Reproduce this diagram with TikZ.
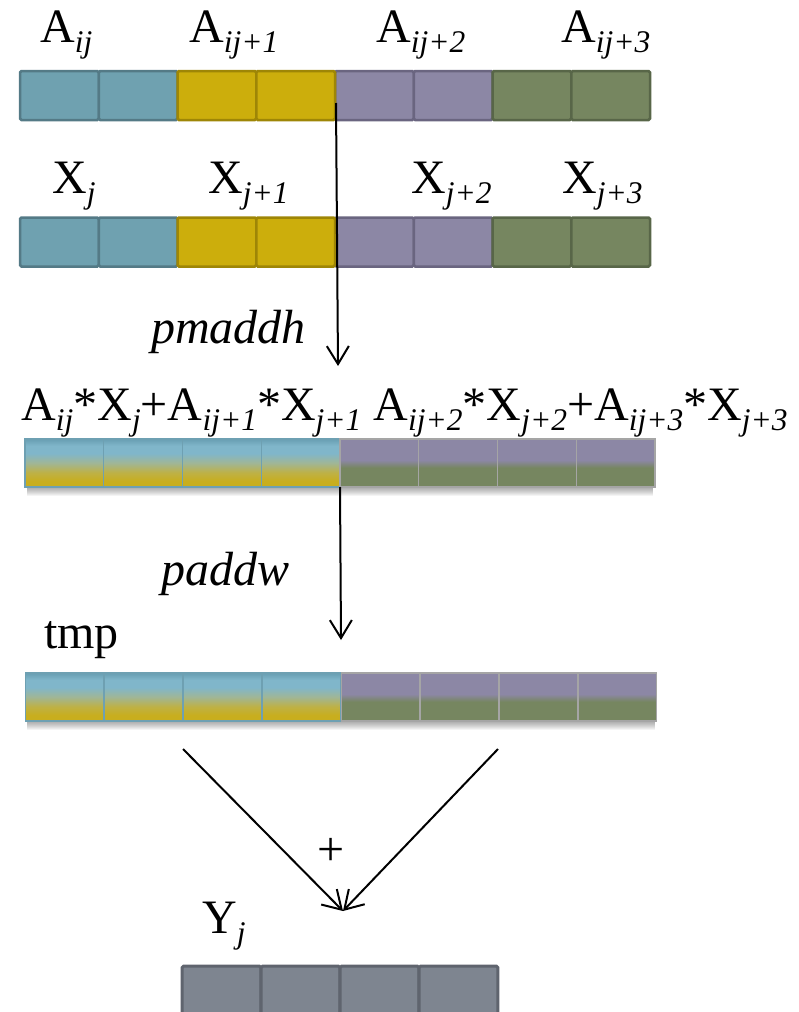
\documentclass[tikz,border=0pt]{standalone}
\usepackage{fontspec}
\setmainfont{Liberation Serif}
\usetikzlibrary{arrows.meta,calc}

% cell colours (fill / border)
\definecolor{tealF}{RGB}{111,161,176}
\definecolor{tealD}{RGB}{84,122,134}
\definecolor{yelF}{RGB}{204,174,12}
\definecolor{yelD}{RGB}{158,134,6}
\definecolor{purF}{RGB}{140,135,165}
\definecolor{purD}{RGB}{106,101,128}
\definecolor{grnF}{RGB}{118,134,96}
\definecolor{grnD}{RGB}{88,102,72}
\definecolor{gryF}{RGB}{126,133,144}
\definecolor{gryD}{RGB}{95,100,110}
% colours of the mixed (result) cells
\definecolor{yelS}{RGB}{200,174,30}
\definecolor{yelS2}{RGB}{190,177,70}
\definecolor{midS}{RGB}{160,182,150}
\definecolor{lbS}{RGB}{128,182,202}
\definecolor{tealS}{RGB}{104,158,178}
\definecolor{tealB}{RGB}{110,160,178}
\definecolor{greyB}{RGB}{165,165,165}

\pgfdeclareverticalshading{tealyel}{100bp}{color(0bp)=(yelS); color(25bp)=(yelS); color(31bp)=(yelS); color(40bp)=(yelS2); color(50bp)=(midS); color(60bp)=(lbS); color(68bp)=(lbS); color(75bp)=(tealS); color(100bp)=(tealS)}
\pgfdeclareverticalshading{purgrn}{100bp}{color(0bp)=(grnF); color(25bp)=(grnF); color(45bp)=(grnF); color(53bp)=(purF); color(75bp)=(purF); color(100bp)=(purF)}

\newcommand\lsub[1]{\raisebox{-0.22em}{\fontsize{31.5}{32}\selectfont\itshape #1}}

\tikzset{
  cell/.style={minimum width=78.75pt, minimum height=49pt, inner sep=0pt,
    outer sep=0pt, line width=2.5pt, rounded corners=1.5pt},
  mixcell/.style={minimum width=78.75pt, minimum height=48pt, inner sep=0pt,
    outer sep=0pt, line width=1.2pt},
  lab/.style={font=\fontsize{48}{56}\selectfont, inner sep=0pt, anchor=base west},
  conn/.style={line width=2pt, -{Straight Barb[length=18pt,width=22pt,line width=2pt]}},
  shadowbox/.style={fill=black, opacity=0.045}
}

\begin{document}
\begin{tikzpicture}[x=1pt,y=-1pt]
\useasboundingbox (0,0) rectangle (799,1012);

% ---- row A: matrix elements
\foreach \i/\f/\d in {1/tealF/tealD,2/tealF/tealD,5/purF/purD,6/purF/purD,3/yelF/yelD,4/yelF/yelD,7/grnF/grnD,8/grnF/grnD}
  \node[cell, fill=\f, draw=\d] (a\i) at ({20+78.75*(\i-0.5)}, 95.5) {};

% ---- row X: vector elements
\foreach \i/\f/\d in {1/tealF/tealD,2/tealF/tealD,5/purF/purD,6/purF/purD,3/yelF/yelD,4/yelF/yelD,7/grnF/grnD,8/grnF/grnD}
  \node[cell, fill=\f, draw=\d] (x\i) at ({20+78.75*(\i-0.5)}, 242) {};

% ---- soft shadows under the two result rows
\foreach \k in {1,...,9} {
  \fill[shadowbox] (27,{441+\k}) rectangle (653,{487+\k});
  \fill[shadowbox] (27,{675+\k}) rectangle (655,{721+\k});
}

% ---- row after pmaddh
\foreach \i in {1,...,4}
  \node[mixcell, shading=tealyel, draw=tealB] (p\i) at ({25+78.75*(\i-0.5)}, 463) {};
\foreach \i in {5,...,8}
  \node[mixcell, shading=purgrn, draw=greyB] (p\i) at ({25+78.75*(\i-0.5)}, 463) {};

% ---- row tmp
\foreach \i in {1,...,4}
  \node[mixcell, shading=tealyel, draw=tealB] (t\i) at ({25+79*(\i-0.5)}, 697) {};
\foreach \i in {5,...,8}
  \node[mixcell, shading=purgrn, draw=greyB] (t\i) at ({25+79*(\i-0.5)}, 697) {};

% ---- row Y
\foreach \i in {1,...,4}
  \node[cell, line width=3pt, fill=gryF, draw=gryD] (y\i) at ({182+79*(\i-0.5)}, 990.5) {};

% ---- labels
\node[lab] (la1) at (40,42) {A\lsub{ij}};
\node[lab] (la2) at (189,42) {A\lsub{ij+1}};
\node[lab] (la3) at (376,42) {A\lsub{ij+2}};
\node[lab] (la4) at (561,42) {A\lsub{ij+3}};

\node[lab] (lx1) at (52,193) {X\lsub{j}};
\node[lab] (lx2) at (208,193) {X\lsub{j+1}};
\node[lab] (lx3) at (411,193) {X\lsub{j+2}};
\node[lab] (lx4) at (562,193) {X\lsub{j+3}};

\node[lab] (lp) at (21,420) {A\lsub{ij}*X\lsub{j}+A\lsub{ij+1}*X\lsub{j+1} A\lsub{ij+2}*X\lsub{j+2}+A\lsub{ij+3}*X\lsub{j+3}};

\node[lab, font=\fontsize{48}{56}\selectfont\itshape] (op1) at (151,343) {pmaddh};
\node[lab, font=\fontsize{48}{56}\selectfont\itshape] (op2) at (161,585) {paddw};
\node[lab] (ltmp) at (44,648) {tmp};
\node[lab, anchor=center] (plus) at (331,852) {+};
\node[lab] (ly) at (202,933) {Y\lsub{j}};

% ---- connectors
\coordinate (s1) at (336,103);
\coordinate (e1) at (338,366);
\coordinate (e2) at (341,640);
\coordinate (s3) at (183,749);
\coordinate (s4) at (498,749);
\coordinate (e3) at (343,911);

\draw[conn] (s1) -- (e1);
\draw[conn] (p4.south east) -- (e2);
\draw[conn] (s3) -- (e3);
\draw[conn] (s4) -- (e3);
\end{tikzpicture}
\end{document}
